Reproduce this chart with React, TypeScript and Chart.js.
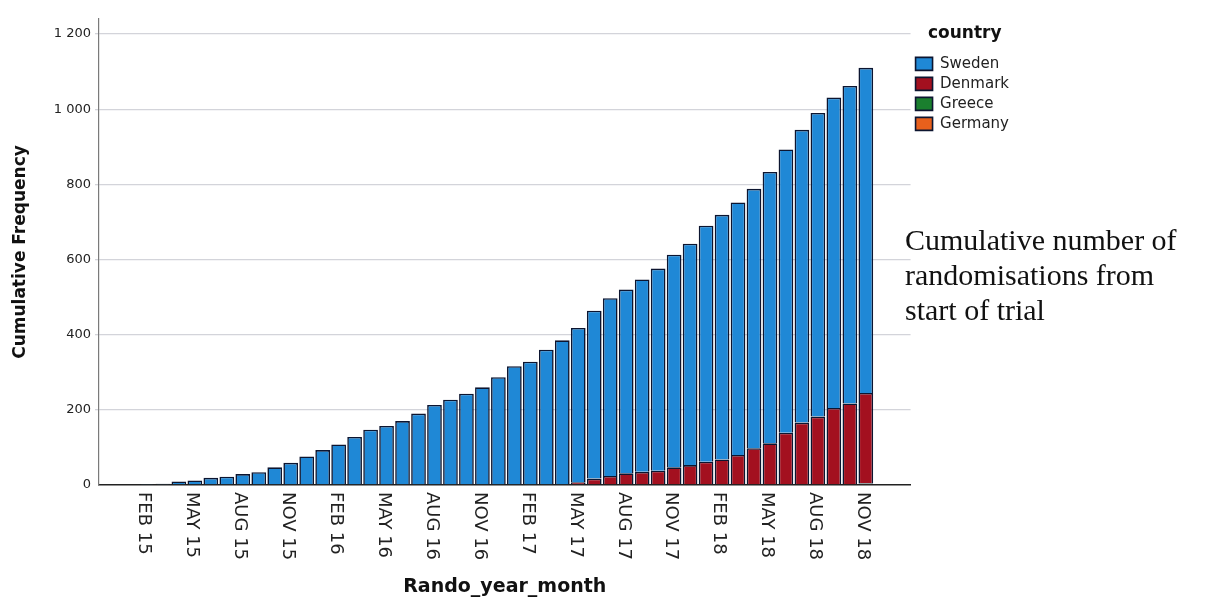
import React, { useEffect, useRef } from 'react';
import { Chart, registerables } from 'chart.js';

Chart.register(...registerables);

// ---------- data ----------
const MONTHS = [
  'FEB 15', 'MAR 15', 'APR 15', 'MAY 15', 'JUN 15', 'JUL 15', 'AUG 15', 'SEP 15', 'OCT 15', 'NOV 15', 'DEC 15',
  'JAN 16', 'FEB 16', 'MAR 16', 'APR 16', 'MAY 16', 'JUN 16', 'JUL 16', 'AUG 16', 'SEP 16', 'OCT 16', 'NOV 16', 'DEC 16',
  'JAN 17', 'FEB 17', 'MAR 17', 'APR 17', 'MAY 17', 'JUN 17', 'JUL 17', 'AUG 17', 'SEP 17', 'OCT 17', 'NOV 17', 'DEC 17',
  'JAN 18', 'FEB 18', 'MAR 18', 'APR 18', 'MAY 18', 'JUN 18', 'JUL 18', 'AUG 18', 'SEP 18', 'OCT 18', 'NOV 18',
];

// indices of MONTHS that carry a tick label (every third month)
const LABELLED_MONTHS = [0, 3, 6, 9, 12, 15, 18, 21, 24, 27, 30, 33, 36, 39, 42, 45];

const COUNTRIES = ['Sweden', 'Denmark', 'Greece', 'Germany'];

const SWEDEN = [
  1, 3, 9, 12, 19, 22, 29, 34, 47, 59,
  76, 93, 108, 128, 147, 157, 170, 190, 213, 227,
  243, 260, 287, 316, 328, 360, 383, 411, 447, 473,
  489, 512, 538, 566, 589, 628, 651, 672, 690, 722,
  754, 779, 808, 826, 845, 865,
];

const DENMARK = [
  0, 0, 0, 0, 0, 0, 0, 0, 0, 0,
  0, 0, 0, 0, 0, 0, 0, 0, 0, 0,
  0, 0, 0, 0, 0, 0, 2, 7, 17, 24,
  31, 35, 38, 47, 53, 62, 68, 80, 98, 111,
  139, 166, 182, 205, 215, 240,
];

const GREECE = [
  0, 0, 0, 0, 0, 0, 0, 0, 0, 0,
  0, 0, 0, 0, 0, 0, 0, 0, 0, 0,
  0, 0, 0, 0, 0, 0, 0, 0, 0, 0,
  0, 0, 0, 0, 0, 0, 0, 0, 0, 0,
  0, 0, 0, 0, 0, 1,
];

const GERMANY = [
  0, 0, 0, 0, 0, 0, 0, 0, 0, 0,
  0, 0, 0, 0, 0, 0, 0, 0, 0, 0,
  0, 0, 0, 0, 0, 0, 0, 0, 0, 0,
  0, 0, 0, 0, 0, 0, 0, 0, 0, 0,
  0, 0, 0, 0, 2, 4,
];

const Y_TICKS = [0, 200, 400, 600, 800, 1000, 1200];

const ANNOTATION_LINES = ['Cumulative number of', 'randomisations from', 'start of trial'];

// ---------- styling ----------
const COLORS: Record<string, string> = {
  Sweden: '#1f88d6',
  Denmark: '#a3101f',
  Greece: '#1a7f2e',
  Germany: '#e8601c',
};
const BAR_BORDER = '#0c1530';
const SANS = '"DejaVu Sans", "Liberation Sans", Arial, sans-serif';

const formatThousands = (v: number) =>
  v >= 1000 ? `${Math.floor(v / 1000)} ${String(v % 1000).padStart(3, '0')}` : String(v);

const toPoints = (arr: number[]) => arr.map((y, i) => ({ x: i, y }));

const xTickLabelPlugin = {
  id: 'xTickLabels',
  afterDraw(chart: any) {
    const scale = chart.scales.x;
    const ctx = chart.ctx as CanvasRenderingContext2D;
    ctx.save();
    ctx.font = `18px ${SANS}`;
    ctx.fillStyle = '#222';
    ctx.textAlign = 'left';
    ctx.textBaseline = 'middle';
    for (const t of scale.ticks) {
      const label = MONTHS[t.value];
      if (!label) continue;
      const x = scale.getPixelForValue(t.value) - 3;
      ctx.save();
      ctx.translate(x, scale.top + 7);
      ctx.rotate(Math.PI / 2);
      ctx.fillText(label, 0, 0);
      ctx.restore();
    }
    ctx.restore();
  },
};

export default function App() {
  const canvasRef = useRef<HTMLCanvasElement>(null);

  useEffect(() => {
    if (!canvasRef.current) return;
    Chart.defaults.font.family = SANS;
    const series: Record<string, number[]> = {
      Sweden: SWEDEN,
      Denmark: DENMARK,
      Greece: GREECE,
      Germany: GERMANY,
    };
    // stack bottom -> top: Germany, Greece, Denmark, Sweden
    const stackOrder = [...COUNTRIES].reverse();
    const chart = new Chart(canvasRef.current, {
      type: 'bar',
      data: {
        datasets: stackOrder.map((c) => ({
          label: c,
          data: toPoints(series[c]),
          backgroundColor: COLORS[c],
          borderColor: BAR_BORDER,
          borderWidth: 1.6,
          barPercentage: 0.92,
          categoryPercentage: 1,
        })),
      },
      options: {
        animation: false,
        responsive: true,
        maintainAspectRatio: false,
        layout: { padding: { top: 19, right: 192, bottom: 0, left: 0 } },
        plugins: {
          tooltip: { enabled: false },
          legend: {
            position: 'right',
            align: 'start',
            reverse: true,
            title: {
              display: true,
              text: 'country',
              color: '#111',
              font: { family: SANS, size: 17, weight: 'bold' },
              padding: { top: 6, bottom: 6 },
            },
            labels: {
              boxWidth: 17,
              boxHeight: 13,
              padding: 5,
              color: '#222',
              font: { family: SANS, size: 15 },
            },
          },
        },
        scales: {
          x: {
            type: 'linear',
            stacked: true,
            offset: false,
            bounds: 'ticks',
            min: -3.0,
            max: 47.8,
            grid: { display: false, drawTicks: false, offset: false },
            border: { display: true, color: '#222', width: 1.5 },
            ticks: { display: false },
            afterBuildTicks: (scale: any) => {
              scale.ticks = LABELLED_MONTHS.map((v) => ({ value: v }));
            },
            afterFit: (scale: any) => {
              scale.height = 115;
            },
            title: {
              display: true,
              text: 'Rando_year_month',
              color: '#111',
              font: { family: SANS, size: 19, weight: 'bold' },
              padding: { top: 0, bottom: 2 },
            },
          },
          y: {
            stacked: true,
            min: 0,
            max: 1240,
            afterBuildTicks: (scale: any) => {
              scale.ticks = Y_TICKS.map((v) => ({ value: v }));
            },
            afterFit: (scale: any) => {
              scale.width = 99;
            },
            ticks: {
              color: '#222',
              font: { family: SANS, size: 13 },
              padding: 4,
              callback: (v: any) => formatThousands(Number(v)),
            },
            grid: {
              color: (ctx: any) => (ctx.tick && ctx.tick.value === 0 ? 'rgba(0,0,0,0)' : '#d3d4da'),
              lineWidth: 1.3,
              tickLength: 4,
              drawTicks: true,
            },
            border: { display: true, color: '#7a7a7a', width: 1.2 },
            title: {
              display: true,
              text: 'Cumulative Frequency',
              color: '#111',
              font: { family: SANS, size: 17, weight: 'bold' },
              padding: { top: 10, bottom: 0 },
            },
          },
        },
      },
      plugins: [xTickLabelPlugin],
    } as any);
    return () => chart.destroy();
  }, []);

  return (
    <div style={{ position: 'absolute', left: 0, top: 0, width: 1211, height: 600, background: '#fff' }}>
      <div style={{ position: 'relative', width: 1211, height: 600 }}>
        <canvas ref={canvasRef} />
      </div>
      <div
        style={{
          position: 'absolute',
          left: 905,
          top: 222,
          fontFamily: '"Liberation Serif", "Times New Roman", serif',
          fontSize: 30,
          lineHeight: '35px',
          color: '#111',
          whiteSpace: 'nowrap',
        }}
      >
        {ANNOTATION_LINES.map((line) => (
          <div key={line}>{line}</div>
        ))}
      </div>
    </div>
  );
}
